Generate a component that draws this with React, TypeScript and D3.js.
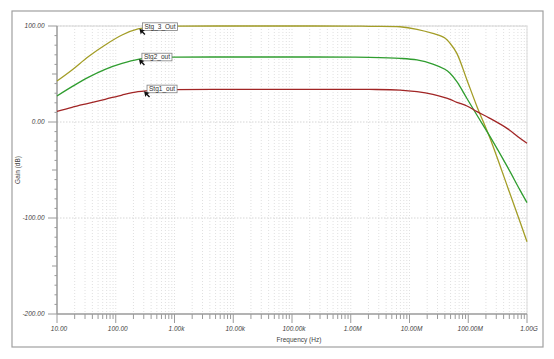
import React, { useEffect, useRef } from "react";
import * as d3 from "d3";

const freqs = [10, 18, 34, 66, 128, 240, 500, 1e3, 1e4, 1e5, 1e6, 2.1e6, 6.9e6, 13.4e6, 25e6, 40e6, 49e6, 64e6, 95e6, 141e6, 234e6, 457e6, 760e6, 1e9];
const stg3 = [42.7, 54.2, 68, 80.2, 90.6, 96.9, 99.2, 99.8, 100, 100, 99.9, 99.7, 99.2, 96.5, 92.2, 87.5, 82, 71.5, 43.8, 16, -16.7, -66, -104, -124.7];
const stg2 = [27.1, 36.8, 46.5, 54.9, 61.1, 65.3, 67.2, 67.6, 67.7, 67.7, 67.6, 67.4, 66.3, 64.6, 60.4, 54.9, 50.7, 42, 24.5, 7, -15, -46, -71, -84];
const stg1 = [11, 15.3, 19.4, 23.6, 28.1, 31.6, 33.3, 33.8, 34, 34, 34, 33.9, 33.3, 31.6, 28.8, 25.5, 23.6, 20.5, 16.7, 10.8, 3.8, -6.6, -17, -22.2];

const seriesNames = ["Stg_3_Out", "Stg2_out", "Stg1_out"];
const seriesData = [stg3, stg2, stg1];
const seriesColors = ["#a39d26", "#2f9d2f", "#a12525"];
const labelFreqs = [253, 248, 303];

const xTickValues = [10, 100, 1e3, 1e4, 1e5, 1e6, 1e7, 1e8, 1e9];
const xTickLabels = ["10.00", "100.00", "1.00k", "10.00k", "100.00k", "1.00M", "10.00M", "100.00M", "1.00G"];
const yTickValues = [100, 0, -100, -200];
const yTickLabels = ["100.00", "0.00", "-100.00", "-200.00"];

const W = 554, H = 359;
const FONT = "'Liberation Sans', Arial, sans-serif";

export default function App() {
  const ref = useRef<SVGSVGElement | null>(null);
  useEffect(() => {
    const svg = d3.select(ref.current);
    svg.selectAll("*").remove();
    const x = d3.scaleLog().domain([10, 1e9]).range([57, 527]);
    const y = d3.scaleLinear().domain([-200, 100]).range([314, 26]);

    // outer frame
    svg.append("rect").attr("x", 12).attr("y", 11).attr("width", 531).attr("height", 336)
      .attr("fill", "white").attr("stroke", "#a0a0a0").attr("stroke-width", 1.2);

    // plot border (light)
    svg.append("path").attr("d", `M${x(10)},${y(100)}H${x(1e9)}V${y(-200)}`)
      .attr("fill", "none").attr("stroke", "#e6e6e6").attr("stroke-width", 1.5);

    // vertical grid lines
    const gridX: number[] = [];
    for (let e = 1; e < 9; e++) for (let m = 1; m < 10; m++) gridX.push(m * Math.pow(10, e));
    gridX.push(1e9);
    svg.append("g").selectAll("line").data(gridX.filter(v => v > 10)).join("line")
      .attr("x1", d => x(d)).attr("x2", d => x(d)).attr("y1", y(100)).attr("y2", y(-200))
      .attr("stroke", "#e0e0e0").attr("stroke-width", 1).attr("stroke-dasharray", "1,2");
    // horizontal grid lines
    svg.append("g").selectAll("line").data([100, 0, -100]).join("line")
      .attr("x1", x(10)).attr("x2", x(1e9)).attr("y1", d => y(d)).attr("y2", d => y(d))
      .attr("stroke", "#d6d6d6").attr("stroke-width", 1).attr("stroke-dasharray", "1.5,1.5");

    // axes
    const axisColor = "#9a9a9a";
    svg.append("line").attr("x1", x(10)).attr("x2", x(10)).attr("y1", y(100)).attr("y2", y(-200))
      .attr("stroke", axisColor).attr("stroke-width", 1.5);
    svg.append("line").attr("x1", x(10)).attr("x2", x(1e9)).attr("y1", y(-200)).attr("y2", y(-200))
      .attr("stroke", axisColor).attr("stroke-width", 1.5);
    // y ticks
    const yMinor = d3.range(-200, 101, 10);
    svg.append("g").selectAll("line").data(yMinor).join("line")
      .attr("x1", d => x(10) - (d % 100 === 0 ? 9 : d % 50 === 0 ? 5 : 2.5)).attr("x2", x(10))
      .attr("y1", d => y(d)).attr("y2", d => y(d))
      .attr("stroke", axisColor).attr("stroke-width", 1);
    // x ticks
    const xAll = [10, ...gridX.filter(v => v > 10)];
    svg.append("g").selectAll("line").data(xAll).join("line")
      .attr("x1", d => x(d)).attr("x2", d => x(d))
      .attr("y1", y(-200)).attr("y2", d => y(-200) + (xTickValues.includes(d) ? 9 : 5))
      .attr("stroke", axisColor).attr("stroke-width", 1);

    // tick labels
    svg.append("g").selectAll("text").data(xTickValues).join("text")
      .attr("x", d => x(d) + 2).attr("y", 331).attr("text-anchor", "middle")
      .attr("font-family", FONT).attr("font-size", 6.5).attr("font-style", "italic").attr("fill", "#444")
      .text((d, i) => xTickLabels[i]);
    svg.append("g").selectAll("text").data(yTickValues).join("text")
      .attr("x", 44.5).attr("y", d => y(d) + 2.3).attr("text-anchor", "end")
      .attr("font-family", FONT).attr("font-size", 6.5).attr("font-style", "italic").attr("fill", "#444")
      .text((d, i) => yTickLabels[i]);

    // axis titles
    svg.append("text").attr("x", 299).attr("y", 341.5).attr("text-anchor", "middle")
      .attr("font-family", FONT).attr("font-size", 6.5).attr("fill", "#444").text("Frequency (Hz)");
    svg.append("text").attr("transform", `translate(20,170) rotate(-90)`).attr("text-anchor", "middle")
      .attr("font-family", FONT).attr("font-size", 6.5).attr("fill", "#444").text("Gain (dB)");

    // curves
    const line = d3.line<[number, number]>().x(d => x(d[0])).y(d => y(d[1])).curve(d3.curveCatmullRom.alpha(0.5));
    const interp = (vals: number[], f: number) => {
      const lf = Math.log10(f);
      for (let i = 0; i < freqs.length - 1; i++) {
        const a = Math.log10(freqs[i]), b = Math.log10(freqs[i + 1]);
        if (lf >= a && lf <= b) return vals[i] + (vals[i + 1] - vals[i]) * (lf - a) / (b - a);
      }
      return vals[vals.length - 1];
    };
    seriesData.forEach((vals, si) => {
      svg.append("path").datum(freqs.map((f, i) => [f, vals[i]] as [number, number]))
        .attr("d", line).attr("fill", "none").attr("stroke", seriesColors[si]).attr("stroke-width", 1.3);
    });

    // labels
    seriesNames.forEach((name, si) => {
      const tx = x(labelFreqs[si]);
      const ty = y(interp(seriesData[si], labelFreqs[si]));
      const g = svg.append("g");
      const bx = tx + 3, by = ty - 6;
      const rect = g.append("rect").attr("x", bx).attr("y", by).attr("height", 7.6)
        .attr("fill", "white").attr("stroke", "#808080").attr("stroke-width", 0.8);
      const t = g.append("text").attr("x", bx + 2).attr("y", by + 6.1)
        .attr("font-family", FONT).attr("font-size", 6.5).attr("fill", "#333").text(name);
      const w = (t.node() as SVGTextElement).getComputedTextLength();
      rect.attr("width", w + 4);
      g.append("path")
        .attr("d", `M${tx},${ty} L${tx + 5.5},${ty + 1.8} L${tx + 3.5},${ty + 2.8} L${tx + 6},${ty + 5.3} L${tx + 5},${ty + 6.3} L${tx + 2.5},${ty + 3.8} L${tx + 1.3},${ty + 5.8} Z`)
        .attr("fill", "#111");
    });
  }, []);
  return (
    <svg ref={ref} width={W} height={H} style={{ position: "absolute", left: 0, top: 0, background: "white" }} />
  );
}
